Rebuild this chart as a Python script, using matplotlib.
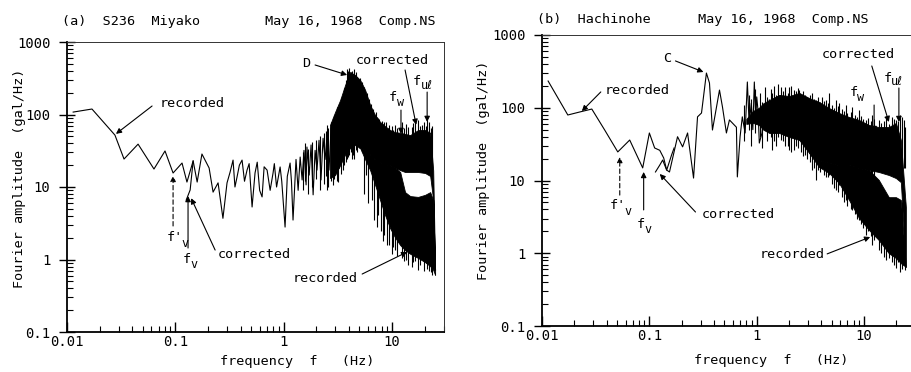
import numpy as np
import matplotlib
matplotlib.use('Agg')
import matplotlib.pyplot as plt
from matplotlib.ticker import LogLocator, NullFormatter

plt.rcParams['font.family'] = ['DejaVu Sans Mono', 'DejaVu Sans']

# ---------------- axis ticks ----------------
x_ticks = [0.01, 0.1, 1, 10]
x_tick_labels = ["0.01", "0.1", "1", "10"]
y_ticks = [0.1, 1, 10, 100, 1000]
y_tick_labels = ["0.1", "1", "10", "100", "1000"]

# ---------------- panel (a) S236 Miyako ----------------
# recorded (and, above ~0.15 Hz, common with corrected) spectrum
rec_a_f = [0.0114, 0.0170, 0.0277, 0.0336, 0.0453, 0.0635, 0.0803, 0.0953, 0.1153,
           0.128, 0.146, 0.159, 0.176, 0.205, 0.223, 0.248, 0.275, 0.300, 0.320,
           0.341, 0.355, 0.371, 0.390, 0.413, 0.435, 0.459, 0.480, 0.511, 0.544,
           0.570, 0.600, 0.632, 0.660, 0.703, 0.750, 0.798, 0.820, 0.860, 0.927,
           0.960, 1.03, 1.08, 1.146, 1.18, 1.22, 1.30, 1.36, 1.42, 1.48, 1.54,
           1.61, 1.64, 1.72, 1.79, 1.87, 1.95, 2.03, 2.12, 2.21, 2.31, 2.41, 2.52,
           2.62, 2.74]
rec_a_amp = [108, 119, 52, 24.3, 39, 17.7, 31.4, 15.6, 21.4,
             11.7, 22.9, 11.7, 28.5, 18.3, 8.5, 11.4, 3.7, 11.4, 16,
             23.5, 10, 13.7, 20, 23.5, 12, 17.1, 21, 5.3, 15.6,
             22, 9, 7.3, 19, 17.1, 9, 15.6, 21, 10, 18.9,
             12, 2.8, 14, 21.4, 12, 3.5, 24, 9, 25.9, 12.5, 32,
             10.7, 35.6, 14.6, 38, 7.8, 32, 17.1, 44, 12.5, 47, 24, 52,
             17.1, 65]
# corrected branch near f_v
cor_a_f = [0.126, 0.137, 0.146]
cor_a_amp = [6.6, 9.1, 22.9]
# dense part: corrected band envelopes
cband_a_f = [2.68, 2.98, 3.32, 3.69, 4.10, 4.56, 5.08, 5.65, 6.28, 6.98, 7.76,
             8.63, 9.61, 10.7, 11.9, 13.2, 14.7, 17.4, 20.2, 22.5, 24.0, 25.0]
cband_a_hi = [72, 108, 158, 255, 385, 351, 299, 218, 135, 98, 79,
              69, 61, 57, 56, 54, 52, 61, 61, 56, 17, 0.72]
cband_a_lo = [13.3, 14.6, 20, 28, 34.5, 38, 34.5, 32, 28, 24, 22,
              20, 20, 18.3, 17.1, 16.1, 16.1, 16.1, 15.6, 14.2, 6.6, 0.72]
# dense part: recorded band envelopes
rband_a_f = [5.08, 5.65, 6.28, 6.98, 7.76, 8.63, 9.61, 10.7, 11.9, 13.2, 14.7,
             17.4, 20.2, 22.5, 24.0, 25.0]
rband_a_hi = [34.5, 32, 28, 24, 22, 20, 20, 18.3, 16.1, 8.5, 7.5,
              7.3, 7.8, 8.5, 6.6, 0.72]
rband_a_lo = [34.5, 24, 17.1, 10.7, 6.6, 4.1, 2.7, 2.0, 1.58, 1.35, 1.2,
              1.05, 0.92, 0.81, 0.72, 0.61]
# individual spikes of the dense part (f, low, high)
spk_a_f = [1.50, 1.58, 1.68, 1.83, 2.00, 2.17, 2.36, 2.46, 2.52, 2.58,
           2.75, 2.80, 2.86, 2.92, 3.05, 3.12, 3.18, 3.25, 3.40, 3.53, 3.60,
           3.75, 3.85, 3.95, 4.02, 4.15, 4.28, 4.40, 4.50, 4.66, 4.80, 4.95,
           5.08, 5.30, 5.50, 5.77, 5.90, 6.10, 6.40, 6.55, 6.70, 7.10, 7.30,
           7.44, 7.60, 8.00, 8.30, 8.45, 8.80, 9.10, 9.40, 9.90, 10.3, 10.7, 11.2,
           5.50, 6.00, 6.80, 7.20, 7.90, 8.20, 8.90, 9.90, 10.3, 11.2,
           12.4, 12.8, 13.6, 14.1, 15.2, 15.7, 16.4, 17.4, 18.2, 19.0, 19.6,
           20.6, 21.1, 22.0, 23.0, 23.5,
           12.4, 12.8, 13.6, 14.1, 15.2, 15.7, 16.4, 17.4, 18.2, 19.0, 19.6,
           20.6, 21.1, 22.0, 23.0, 23.5]
spk_a_lo = [9, 12, 8, 10, 13, 9, 11, 14, 9.1, 10,
            12, 15, 10.7, 13, 16, 12, 11.7, 18, 15, 17.1, 20,
            22, 24, 26, 28, 30, 24, 28, 24, 32, 30, 35,
            44, 30, 28, 14.6, 25, 22, 20, 6.6, 18, 16, 14,
            4.1, 13, 12, 12, 2.2, 10, 10, 1.58, 10, 10, 1.35, 12,
            8, 6, 3.5, 2.8, 2.5, 1.8, 1.6, 1.2, 1.5, 1.1,
            20, 20, 20, 20, 20, 20, 20, 20, 20, 20, 20,
            20, 20, 20, 20, 20,
            1.05, 0.95, 1.0, 0.84, 0.8, 0.92, 0.95, 0.72, 0.85, 1.15, 0.7,
            0.9, 0.75, 0.7, 0.67, 0.62]
spk_a_hi = [30, 40, 33, 42, 45, 50, 55, 60, 72, 66,
            80, 70, 89, 100, 95, 125, 115, 140, 170, 186, 230,
            300, 420, 400, 440, 390, 400, 360, 420, 380, 330, 290,
            318, 280, 240, 186, 200, 165, 140, 115, 120, 108, 92,
            89, 88, 82, 74, 79, 78, 66, 72, 70, 62, 72, 65,
            30, 25, 20, 18, 15, 15, 14, 14, 14, 14,
            79, 66, 75, 67, 68, 76, 80, 84, 70, 72, 78,
            70, 84, 80, 65, 70,
            6, 6, 6, 6, 6, 6, 6, 6, 6, 6, 6,
            6, 6, 6, 6, 6]

# ---------------- panel (b) Hachinohe ----------------
rec_b_f = [0.0114, 0.0174, 0.0225, 0.0291, 0.0385, 0.0508, 0.0656, 0.0867, 0.100,
           0.112, 0.125, 0.136, 0.145, 0.154, 0.183, 0.204, 0.227, 0.258, 0.281,
           0.306, 0.340, 0.363, 0.387, 0.450, 0.480, 0.522, 0.557, 0.647, 0.660,
           0.700, 0.734, 0.780, 0.818, 0.850, 0.891, 0.920, 0.950, 0.980, 1.0,
           1.030, 1.057, 1.120, 1.177, 1.240, 1.31]
rec_b_amp = [233, 79.5, 87.5, 96, 49, 24.7, 36, 14.9, 45,
             28, 26, 20.4, 13.9, 13.1, 40, 29, 45, 10.8, 75,
             84.7, 300, 219, 49.4, 175, 102, 45, 68, 54, 11.2,
             40, 75, 45, 226, 60, 116, 50, 226, 70, 141,
             90, 32.7, 45, 102, 60, 128]
cor_b_f = [0.114, 0.125, 0.133, 0.145, 0.161, 0.170]
cor_b_amp = [13.1, 16.3, 19.1, 13.9, 22.4, 28]
band_b_f = [0.80, 0.92, 1.05, 1.15, 1.31, 1.62, 2.01, 2.49, 3.08, 3.81, 4.72,
            5.85, 7.24, 8.97, 11.1, 13.7, 17.0, 19.8, 22.0, 24.5]
cband_b_hi = [70, 90, 100, 115, 128, 150, 145, 160, 136, 120, 99,
              84.7, 74.6, 67.9, 58, 54.3, 54.3, 61.7, 36.1, 4.3]
cband_b_lo = [60, 62, 58, 50, 45, 45, 39.6, 36.1, 23.9, 19.1, 17.4,
              16.3, 16.3, 14.9, 13.9, 13.1, 11.9, 10.8, 9.5, 0.65]
rband_b_f = [3.08, 3.81, 4.72, 5.85, 7.24, 8.97, 11.1, 13.7, 17.0, 19.8, 22.0, 24.5]
rband_b_hi = [23.9, 19.1, 17.4, 16.3, 16.3, 14.9, 13.9, 10.2, 5.9, 5.9, 5.4, 0.65]
rband_b_lo = [23.9, 15.3, 12.7, 9.2, 5.4, 3.05, 2.09, 1.52, 1.0, 0.86, 0.73, 0.65]
spk_b_f = [0.76, 0.84, 0.88, 0.97, 1.08, 1.12, 1.20, 1.26,
           1.35, 1.40, 1.45, 1.52, 1.58, 1.69, 1.75, 1.85, 1.95, 2.01, 2.10,
           2.23, 2.30, 2.40, 2.49, 2.60, 2.70, 2.83, 2.95, 3.15, 3.28, 3.40,
           3.57, 3.70, 3.90, 4.06, 4.20, 4.43, 4.60, 4.72, 5.00, 5.30, 5.48,
           5.70, 5.85, 6.20, 6.50, 6.79, 7.00, 7.50, 7.73, 8.20, 8.60, 8.97,
           9.30, 9.80, 10.4, 10.8, 11.5, 11.8, 12.5,
           13.7, 14.5, 15.2, 16.0, 17.0, 18.2, 18.8, 19.8, 20.5, 21.5, 22.5,
           23.5, 24.0,
           13.7, 14.5, 15.2, 16.0, 17.0, 18.2, 18.8, 19.8, 20.5, 21.5, 22.5,
           23.5, 24.0]
spk_b_lo = [35, 50, 30, 45, 40, 28, 50, 35,
            40, 26.2, 35, 30, 40, 36, 35, 30, 30, 26, 25,
            26, 30, 28, 36, 25, 22, 22.4, 20, 18, 13.9, 15,
            10.2, 14, 13, 16.3, 12, 11.3, 11, 11.9, 9, 8, 7.4,
            7, 8.7, 6, 5, 5.4, 4.5, 4, 3.9, 3.5, 3, 2.9,
            2.5, 2.2, 1.78, 2, 1.7, 1.3, 1.5,
            15, 15, 15, 15, 15, 15, 15, 15, 15, 15, 15,
            15, 15,
            1.11, 1.0, 0.9, 0.81, 0.85, 0.76, 0.7, 0.63, 0.75, 0.55, 0.6,
            0.69, 0.58]
spk_b_hi = [110, 150, 130, 180, 160, 120, 190, 140,
            180, 160, 200, 150, 210, 193, 170, 190, 160, 193, 200,
            175, 170, 185, 175, 150, 170, 150, 140, 150, 160, 130,
            128, 140, 120, 141, 125, 128, 115, 160, 110, 100, 128,
            105, 116, 95, 90, 109, 85, 88, 102, 80, 75, 93,
            78, 70, 67.9, 72, 65, 79, 70,
            67.9, 62, 66, 72, 60, 74.6, 70, 67.9, 65, 79, 75,
            67.9, 55,
            5, 5, 5, 5, 5, 5, 5, 5, 5, 5, 5,
            5, 5]

# ---------------- figure ----------------
fig = plt.figure(figsize=(9.11, 3.72), dpi=100)
axA = fig.add_axes([67 / 911, 40 / 372, 376.7 / 911, 290 / 372])
axB = fig.add_axes([542 / 911, 46 / 372, 373.3 / 911, 291 / 372])

LW = 0.8
FS = 9.7
SUB = 8.5


def style(ax, ylab_xy, xlab_xy):
    ax.set_xscale('log')
    ax.set_yscale('log')
    ax.set_xlim(0.01, 30)
    ax.set_ylim(0.1, 1000)
    ax.set_xticks(x_ticks, labels=x_tick_labels)
    ax.set_yticks(y_ticks, labels=y_tick_labels)
    ax.xaxis.set_minor_locator(LogLocator(base=10, subs=np.arange(2, 10), numticks=30))
    ax.yaxis.set_minor_locator(LogLocator(base=10, subs=np.arange(2, 10), numticks=30))
    ax.xaxis.set_minor_formatter(NullFormatter())
    ax.yaxis.set_minor_formatter(NullFormatter())
    ax.tick_params(axis='x', which='major', direction='in', length=7, width=1.0,
                   pad=2, labelsize=10)
    ax.tick_params(axis='x', which='minor', direction='in', length=4, width=0.8)
    ax.tick_params(axis='y', which='major', direction='inout', length=12, width=1.0,
                   pad=6, labelsize=10)
    ax.tick_params(axis='y', which='minor', direction='in', length=4, width=0.8)
    for s in ('left', 'bottom'):
        ax.spines[s].set_linewidth(1.3)
    for s in ('top', 'right'):
        ax.spines[s].set_linewidth(0.7)
        ax.spines[s].set_color('#333333')
    ax.set_ylabel("Fourier amplitude  (gal/Hz)", fontsize=FS)
    ax.yaxis.set_label_coords(*ylab_xy)
    ax.set_xlabel("frequency  f   (Hz)", fontsize=FS)
    ax.xaxis.set_label_coords(*xlab_xy)
    ax.xaxis.label.set_va('center')
    ax.xaxis.label.set_ha('center')
    ax.yaxis.label.set_va('center')


def draw(ax, rf, ra, cf, ca, cbf, cbh, cbl, rbf, rbh, rbl, sf, sl, sh):
    ax.plot(rf, ra, color='black', lw=LW)
    ax.plot(cf, ca, color='black', lw=LW)
    ax.fill_between(cbf, cbl, cbh, color='black', lw=0.6, edgecolor='black')
    ax.fill_between(rbf, rbl, rbh, color='black', lw=0.6, edgecolor='black')
    ax.vlines(sf, sl, sh, color='black', lw=LW)


def arrow(ax, tail, head, dashed=False):
    ax.annotate("", xy=head, xytext=tail, xycoords='data', textcoords='data',
                arrowprops=dict(arrowstyle='-|>', color='black', lw=0.8,
                                mutation_scale=8, shrinkA=0, shrinkB=0,
                                linestyle=(0, (4, 2.5)) if dashed else '-'))


def label(ax, x, y, s, ha='left'):
    ax.text(x, y, s, fontsize=FS, ha=ha, va='center', color='black')


def flabel(ax, x, y, main, sub, dx, dy=-3.5):
    """main letter(s) with left edge at (x, y) and a lowered subscript"""
    ax.annotate(main, (x, y), xytext=(0, 0), textcoords='offset points',
                fontsize=FS, ha='left', va='center')
    ax.annotate(sub, (x, y), xytext=(dx, dy), textcoords='offset points',
                fontsize=SUB, ha='left', va='center')


style(axA, (-0.125, 0.53), (0.612, -0.10))
style(axB, (-0.158, 0.535), (0.615, -0.117))

draw(axA, rec_a_f, rec_a_amp, cor_a_f, cor_a_amp,
     cband_a_f, cband_a_hi, cband_a_lo, rband_a_f, rband_a_hi, rband_a_lo,
     spk_a_f, spk_a_lo, spk_a_hi)
draw(axB, rec_b_f, rec_b_amp, cor_b_f, cor_b_amp,
     band_b_f, cband_b_hi, cband_b_lo, rband_b_f, rband_b_hi, rband_b_lo,
     spk_b_f, spk_b_lo, spk_b_hi)

# annotations (a)
label(axA, 0.0723, 144, "recorded")
arrow(axA, (0.061, 131), (0.0283, 54))
label(axA, 1.61, 513, "D", ha='center')
arrow(axA, (1.95, 482), (3.85, 351))
label(axA, 4.67, 547, "corrected")
arrow(axA, (13.2, 411), (16.7, 72))
flabel(axA, 9.4, 169, "f", "w", 5.5)
arrow(axA, (12.1, 115), (12.1, 54))
flabel(axA, 15.6, 281, "f", "u\u2113", 5.5, -2.5)
arrow(axA, (21.1, 204), (21.1, 79))
flabel(axA, 0.084, 2.0, "f'", "v", 10.5, -4.5)
arrow(axA, (0.0953, 2.9), (0.0953, 14.2), dashed=True)
flabel(axA, 0.118, 1.0, "f", "v", 5.5, -3.5)
arrow(axA, (0.131, 1.44), (0.131, 7.5))
label(axA, 0.248, 1.19, "corrected")
arrow(axA, (0.233, 1.35), (0.140, 7.0))
label(axA, 1.22, 0.54, "recorded")
arrow(axA, (5.3, 0.63), (13.8, 1.27))

# annotations (b)
label(axB, 0.0385, 170, "recorded")
arrow(axB, (0.0353, 165), (0.0235, 90))
label(axB, 0.148, 468, "C", ha='center')
arrow(axB, (0.175, 440), (0.319, 310))
label(axB, 4.06, 531, "corrected")
arrow(axB, (11.8, 375), (17.0, 63.7))
flabel(axB, 7.3, 160, "f", "w", 5.5)
arrow(axB, (12.4, 109), (12.4, 46.4))
flabel(axB, 15.2, 256, "f", "u\u2113", 5.5, -2.5)
arrow(axB, (21.1, 187), (21.1, 63.7))
flabel(axB, 0.0425, 4.5, "f'", "v", 10.5, -4.5)
arrow(axB, (0.053, 6.3), (0.053, 21), dashed=True)
flabel(axB, 0.0765, 2.5, "f", "v", 5.5, -3.5)
arrow(axB, (0.0885, 3.94), (0.0885, 13.1))
label(axB, 0.306, 3.36, "corrected")
arrow(axB, (0.269, 3.69), (0.125, 12.3))
label(axB, 1.06, 0.95, "recorded")
arrow(axB, (4.53, 0.98), (11.4, 1.67))

# panel titles
fig.text(62 / 911, 1 - 21 / 372, "(a)  S236  Miyako", fontsize=FS, ha='left', va='center')
fig.text(265 / 911, 1 - 21 / 372, "May 16, 1968  Comp.NS", fontsize=FS, ha='left', va='center')
fig.text(537 / 911, 1 - 19 / 372, "(b)  Hachinohe", fontsize=FS, ha='left', va='center')
fig.text(698 / 911, 1 - 19 / 372, "May 16, 1968  Comp.NS", fontsize=FS, ha='left', va='center')

fig.savefig("out.png", dpi=100)
